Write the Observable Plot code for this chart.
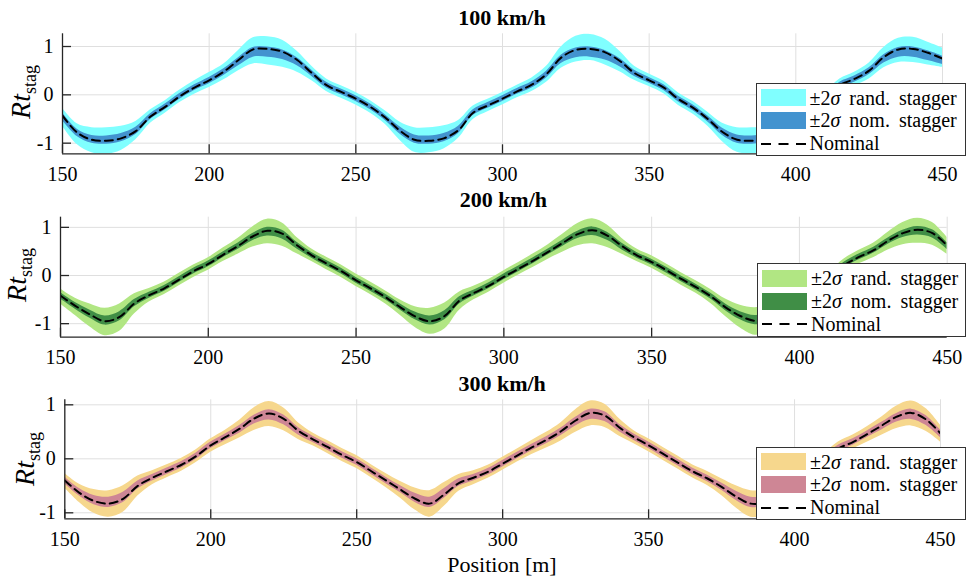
<!DOCTYPE html>
<html><head><meta charset="utf-8">
<script src="https://cdn.jsdelivr.net/npm/d3@7"></script>
<script src="https://cdn.jsdelivr.net/npm/@observablehq/plot@0.6"></script>
<style>
body{margin:0;background:#fff;}
#fig{position:relative;width:966px;height:581px;overflow:hidden;font-family:"Liberation Serif",serif;color:#000;}
#fig svg text{font-family:"Liberation Serif",serif !important;}
.panel{position:absolute;left:0;}
.title{position:absolute;font-family:"Liberation Serif",serif;font-weight:bold;font-size:22px;line-height:1;transform:translate(-50%,-50%);white-space:nowrap;}
.ylab{position:absolute;font-family:"Liberation Serif",serif;line-height:1;transform:translate(-50%,-50%) rotate(-90deg);white-space:nowrap;font-size:28px;}
.ylab sub{font-size:18px;font-style:normal;vertical-align:-6px;}
.legend{position:absolute;background:#fff;border:1px solid #333;box-sizing:border-box;}
.sw{position:absolute;left:4px;width:45px;height:17px;}
.lt{position:absolute;left:53px;font-family:"Liberation Serif",serif;font-size:20px;line-height:1;transform:translateY(-50%);white-space:nowrap;word-spacing:4px;}
.xlab{position:absolute;font-family:"Liberation Serif",serif;font-size:22px;line-height:1;transform:translate(-50%,-50%);white-space:nowrap;}
</style>
</head><body>
<div id="fig"></div>
<script>
const POS = [150,155,160,165,170,175,180,185,190,195,
  200,205,210,215,220,225,230,235,240,245,
  250,255,260,265,270,275,280,285,290,295,
  300,305,310,315,320,325,330,335,340,345,
  350,355,360,365,370,375,380,385,390,395,
  400,405,410,415,420,425,430,435,440,445,
  450];

// 100 km/h
const NOM_100 = [-0.43,-0.78,-0.93,-0.95,-0.90,-0.75,-0.45,-0.25,-0.03,0.15,
  0.30,0.48,0.72,0.94,0.95,0.89,0.72,0.45,0.20,0.06,
  -0.08,-0.25,-0.47,-0.74,-0.93,-0.95,-0.90,-0.73,-0.37,-0.22,
  -0.08,0.07,0.21,0.43,0.77,0.93,0.95,0.88,0.70,0.45,
  0.30,0.15,-0.09,-0.27,-0.50,-0.77,-0.93,-0.95,-0.92,-0.82,
  -0.55,-0.32,-0.08,0.20,0.33,0.50,0.78,0.94,0.95,0.87,
  0.75];
const RAND_UP_100 = [.15,.18,.25,.27,.25,.20,.14,.13,.13,.14,
  .16,.16,.20,.24,.25,.24,.18,.14,.13,.13,
  .13,.13,.14,.18,.25,.27,.26,.20,.14,.13,
  .13,.13,.14,.16,.22,.28,.30,.27,.20,.14,
  .13,.13,.13,.13,.14,.18,.25,.27,.25,.20,
  .14,.13,.13,.13,.14,.16,.20,.23,.24,.22,
  .22];
const RAND_DN_100 = [.22,.25,.27,.28,.25,.18,.14,.13,.13,.14,
  .15,.17,.22,.30,.33,.32,.25,.16,.13,.13,
  .13,.13,.14,.20,.26,.25,.22,.17,.14,.13,
  .13,.13,.14,.17,.22,.25,.24,.26,.22,.15,
  .13,.13,.13,.13,.15,.20,.26,.27,.25,.18,
  .14,.13,.13,.13,.14,.17,.22,.27,.28,.25,
  .18];
const NOMST_UP_100 = [.06,.07,.09,.10,.10,.08,.06,.06,.06,.06,
  .06,.06,.05,.04,.04,.04,.05,.06,.06,.06,
  .06,.06,.06,.08,.10,.10,.10,.08,.06,.06,
  .06,.06,.06,.06,.05,.04,.04,.04,.05,.06,
  .06,.06,.06,.06,.06,.08,.10,.10,.10,.08,
  .06,.06,.06,.06,.06,.06,.05,.04,.04,.04,
  .05];
const NOMST_DN_100 = [.10,.08,.07,.07,.07,.07,.06,.06,.06,.06,
  .07,.08,.12,.16,.17,.16,.12,.07,.06,.06,
  .06,.06,.06,.07,.07,.07,.07,.07,.06,.06,
  .06,.06,.07,.08,.12,.16,.17,.16,.12,.07,
  .06,.06,.06,.06,.06,.07,.07,.07,.07,.07,
  .06,.06,.06,.06,.07,.08,.12,.16,.17,.16,
  .12];

// 200 km/h
const NOM_200 = [-0.42,-0.63,-0.81,-0.95,-0.86,-0.58,-0.41,-0.27,-0.09,0.09,
  0.24,0.43,0.61,0.81,0.93,0.87,0.63,0.42,0.25,0.09,
  -0.10,-0.27,-0.45,-0.66,-0.85,-0.95,-0.84,-0.52,-0.36,-0.21,
  -0.03,0.14,0.31,0.49,0.68,0.86,0.94,0.83,0.61,0.42,
  0.28,0.11,-0.07,-0.24,-0.43,-0.66,-0.84,-0.94,-0.88,-0.62,
  -0.45,-0.28,-0.06,0.21,0.38,0.52,0.72,0.88,0.95,0.88,
  0.62];
const RAND_UP_200 = [.14,.16,.22,.27,.27,.20,.14,.13,.13,.13,
  .13,.14,.16,.20,.24,.22,.16,.13,.13,.13,
  .13,.13,.13,.15,.20,.27,.27,.18,.14,.13,
  .13,.13,.14,.15,.18,.22,.24,.22,.16,.13,
  .13,.13,.13,.13,.14,.17,.22,.27,.27,.20,
  .14,.13,.13,.13,.14,.15,.18,.22,.24,.22,
  .17];
const RAND_DN_200 = [.17,.20,.26,.30,.30,.22,.14,.13,.13,.13,
  .13,.14,.17,.22,.27,.26,.18,.13,.13,.13,
  .13,.13,.14,.17,.23,.27,.27,.20,.14,.13,
  .13,.13,.14,.15,.19,.24,.28,.25,.17,.13,
  .13,.13,.13,.13,.15,.19,.25,.30,.28,.20,
  .14,.13,.13,.13,.14,.15,.19,.24,.28,.25,
  .18];
const NOMST_UP_200 = [.06,.07,.09,.11,.11,.08,.06,.06,.06,.06,
  .06,.06,.06,.06,.07,.07,.06,.06,.06,.06,
  .06,.06,.06,.07,.09,.11,.11,.08,.06,.06,
  .06,.06,.06,.06,.06,.06,.07,.07,.06,.06,
  .06,.06,.06,.06,.06,.07,.09,.11,.11,.08,
  .06,.06,.06,.06,.06,.06,.06,.06,.07,.07,
  .06];
const NOMST_DN_200 = [.07,.07,.08,.08,.08,.07,.06,.06,.06,.06,
  .06,.06,.07,.09,.11,.11,.08,.06,.06,.06,
  .06,.06,.06,.06,.07,.08,.08,.07,.06,.06,
  .06,.06,.06,.06,.07,.09,.11,.10,.08,.06,
  .06,.06,.06,.06,.06,.07,.08,.08,.08,.07,
  .06,.06,.06,.06,.06,.06,.07,.09,.11,.10,
  .08];

// 300 km/h
const NOM_300 = [-0.40,-0.63,-0.78,-0.83,-0.74,-0.50,-0.35,-0.23,-0.11,0.05,
  0.25,0.40,0.56,0.75,0.84,0.74,0.52,0.36,0.22,0.07,
  -0.06,-0.23,-0.40,-0.57,-0.74,-0.83,-0.66,-0.45,-0.35,-0.24,
  -0.09,0.06,0.21,0.35,0.51,0.71,0.85,0.80,0.58,0.40,
  0.25,0.09,-0.07,-0.23,-0.36,-0.52,-0.70,-0.83,-0.80,-0.60,
  -0.42,-0.25,-0.03,0.19,0.31,0.46,0.62,0.78,0.85,0.73,
  0.47];
const RAND_UP_300 = [.13,.16,.21,.24,.24,.18,.13,.12,.12,.12,
  .12,.13,.16,.20,.22,.20,.15,.12,.12,.12,
  .12,.12,.13,.15,.20,.24,.22,.16,.13,.12,
  .12,.12,.13,.14,.16,.20,.22,.21,.16,.12,
  .12,.12,.12,.12,.13,.15,.20,.24,.23,.17,
  .13,.12,.12,.12,.13,.14,.16,.20,.22,.20,
  .15];
const RAND_DN_300 = [.14,.18,.23,.25,.25,.19,.13,.12,.12,.12,
  .13,.14,.17,.22,.24,.22,.16,.12,.12,.12,
  .12,.12,.13,.16,.21,.25,.22,.15,.13,.12,
  .12,.12,.13,.15,.18,.22,.24,.22,.16,.12,
  .12,.12,.12,.12,.13,.16,.21,.25,.24,.17,
  .13,.12,.12,.12,.13,.15,.18,.22,.24,.22,
  .16];
const NOMST_UP_300 = [.06,.08,.10,.12,.12,.09,.06,.06,.06,.06,
  .06,.06,.06,.06,.07,.07,.06,.06,.06,.06,
  .06,.06,.06,.07,.10,.12,.11,.08,.06,.06,
  .06,.06,.06,.06,.06,.06,.07,.07,.06,.06,
  .06,.06,.06,.06,.06,.07,.10,.12,.11,.08,
  .06,.06,.06,.06,.06,.06,.06,.06,.07,.07,
  .06];
const NOMST_DN_300 = [.06,.06,.07,.07,.07,.06,.06,.06,.06,.06,
  .06,.06,.08,.10,.12,.11,.08,.06,.06,.06,
  .06,.06,.06,.06,.07,.07,.07,.06,.06,.06,
  .06,.06,.06,.07,.08,.10,.12,.11,.08,.06,
  .06,.06,.06,.06,.06,.06,.07,.07,.07,.06,
  .06,.06,.06,.06,.06,.06,.08,.10,.12,.11,
  .08];

const X_TICKS = [150,200,250,300,350,400,450];
const Y_TICKS = [-1,0,1];
const TITLES = ["100 km/h","200 km/h","300 km/h"];
const LEGEND_LABELS = ["±2<i>σ</i> rand. stagger","±2<i>σ</i> nom. stagger","Nominal"];
const X_LABEL = "Position [m]";
const RAND_COLORS = ["#80ffff","#b1e683","#f6d78d"];
const NOMST_COLORS = ["#4393cf","#408e46","#ce8695"];

const SERIES = [
  {nom:NOM_100, ru:RAND_UP_100, rd:RAND_DN_100, nu:NOMST_UP_100, nd:NOMST_DN_100},
  {nom:NOM_200, ru:RAND_UP_200, rd:RAND_DN_200, nu:NOMST_UP_200, nd:NOMST_DN_200},
  {nom:NOM_300, ru:RAND_UP_300, rd:RAND_DN_300, nu:NOMST_UP_300, nd:NOMST_DN_300}
];

// layout (styles/positions)
const LAYOUT = [
  {top:0, height:185, mt:33.3, mb:31.7, ml:62, mr:24, ydom:[-1.22,1.263], titleY:18, ylab:[23,92], leg:{left:755.5,top:82.5,h:73.5}},
  {top:185, height:185, mt:31.7, mb:33.3, ml:60, mr:19.3, ydom:[-1.281,1.211], titleY:200, ylab:[19,275], leg:{left:757,top:263,h:73.7}},
  {top:370, height:211, mt:29.3, mb:62.7, ml:64.3, mr:26, ydom:[-1.111,1.093], titleY:384, ylab:[27,459], leg:{left:756,top:446.5,h:73.5}}
];

const fig = document.getElementById("fig");
const AX = "#262626", GRID = "#dfdfdf", W = 966;

LAYOUT.forEach((L, i) => {
  const S = SERIES[i];
  const rows = POS.map((x, k) => ({
    x, y: S.nom[k],
    rlo: S.nom[k] - S.rd[k], rhi: S.nom[k] + S.ru[k],
    nlo: S.nom[k] - S.nd[k], nhi: S.nom[k] + S.nu[k]
  }));
  const plotW = W - L.ml - L.mr, plotH = L.height - L.mt - L.mb;
  const curve = "catmull-rom";
  const chart = Plot.plot({
    width: W, height: L.height,
    marginTop: L.mt, marginBottom: L.mb, marginLeft: L.ml, marginRight: L.mr,
    x: {domain: [150, 450], axis: null},
    y: {domain: L.ydom, axis: null},
    style: {fontFamily: "'Liberation Serif', serif", fontSize: "20px", color: "#000", background: "transparent", overflow: "visible"},
    marks: [
      Plot.gridX(X_TICKS, {stroke: GRID, strokeOpacity: 1}),
      Plot.gridY(Y_TICKS, {stroke: GRID, strokeOpacity: 1}),
      Plot.areaY(rows, {x: "x", y1: "rlo", y2: "rhi", fill: RAND_COLORS[i], curve, clip: true}),
      Plot.areaY(rows, {x: "x", y1: "nlo", y2: "nhi", fill: NOMST_COLORS[i], curve, clip: true}),
      Plot.line(rows, {x: "x", y: "y", stroke: "#000", strokeWidth: 2, strokeDasharray: "8,5", curve, clip: true}),
      Plot.ruleY([L.ydom[0]], {stroke: AX, strokeWidth: 1.3}),
      Plot.ruleX([150], {stroke: AX, strokeWidth: 1.3}),
      Plot.tickX(X_TICKS, {x: d => d, insetTop: plotH - 9, stroke: AX, strokeWidth: 1.3}),
      Plot.tickY(Y_TICKS, {y: d => d, insetRight: plotW - 9, stroke: AX, strokeWidth: 1.3}),
      Plot.axisX(X_TICKS, {label: null, tickSize: 0, tickPadding: 13, fontSize: 20, fill: "#000", tickFormat: d => String(d)}),
      Plot.axisY(Y_TICKS, {label: null, tickSize: 0, tickPadding: 9, fontSize: 20, fill: "#000", tickFormat: d => d < 0 ? "-" + (-d) : String(d)})
    ]
  });
  chart.classList.add("panel");
  chart.style.top = L.top + "px";
  fig.appendChild(chart);

  const t = document.createElement("div");
  t.className = "title";
  t.textContent = TITLES[i];
  t.style.left = (L.ml + plotW / 2) + "px";
  t.style.top = L.titleY + "px";
  fig.appendChild(t);

  const yl = document.createElement("div");
  yl.className = "ylab";
  yl.innerHTML = "<i>Rt</i><sub>stag</sub>";
  yl.style.left = L.ylab[0] + "px";
  yl.style.top = L.ylab[1] + "px";
  fig.appendChild(yl);

  const lg = document.createElement("div");
  lg.className = "legend";
  lg.style.left = L.leg.left + "px";
  lg.style.top = L.leg.top + "px";
  lg.style.width = (W - L.leg.left) + "px";
  lg.style.height = L.leg.h + "px";
  lg.innerHTML =
    `<div class="sw" style="top:5.5px;background:${RAND_COLORS[i]}"></div>` +
    `<div class="lt" style="top:14px">${LEGEND_LABELS[0]}</div>` +
    `<div class="sw" style="top:28.5px;background:${NOMST_COLORS[i]}"></div>` +
    `<div class="lt" style="top:36.5px">${LEGEND_LABELS[1]}</div>` +
    `<svg width="50" height="10" style="position:absolute;left:4px;top:55px"><line x1="0" y1="5" x2="45" y2="5" stroke="#000" stroke-width="2" stroke-dasharray="10,7.5"/></svg>` +
    `<div class="lt" style="top:59.5px">${LEGEND_LABELS[2]}</div>`;
  fig.appendChild(lg);
});

const xl = document.createElement("div");
xl.className = "xlab";
xl.textContent = X_LABEL;
xl.style.left = "502px";
xl.style.top = "565px";
fig.appendChild(xl);
</script>
</body></html>
